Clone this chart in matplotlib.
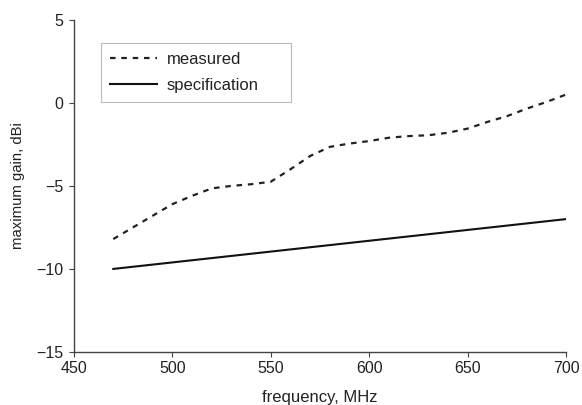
import matplotlib
matplotlib.use("Agg")
import matplotlib.pyplot as plt

plt.rcParams['font.family'] = ['Liberation Sans', 'DejaVu Sans']

# frequency in MHz
freq = [470, 480, 490, 500, 510, 520, 530, 540, 550, 560, 570, 580,
        590, 600, 610, 620, 630, 640, 650, 660, 670, 680, 690, 700]
# measured maximum gain, dBi
measured = [-8.2, -7.5, -6.8, -6.1, -5.6, -5.15, -5.0, -4.9, -4.75, -4.0,
            -3.2, -2.65, -2.45, -2.3, -2.1, -2.0, -1.95, -1.8, -1.55, -1.15,
            -0.8, -0.35, 0.05, 0.5]
# specification line endpoints
spec_freq = [470, 700]
spec_gain = [-10, -7]

fig = plt.figure(figsize=(5.82, 4.05), dpi=100)
ax = fig.add_axes([0.127, 0.131, 0.8455, 0.82])

ax.plot(freq, measured, color='#222222', lw=1.6, linestyle=(0, (2.5, 2.6)),
        label='measured')
ax.plot(spec_freq, spec_gain, color='#111111', lw=1.5, label='specification')

ax.set_xlim(450, 700)
ax.set_ylim(-15, 5)
ax.set_xticks([450, 500, 550, 600, 650, 700])
ax.set_yticks([-15, -10, -5, 0, 5])

for s in ['top', 'right']:
    ax.spines[s].set_visible(False)
for s in ['left', 'bottom']:
    ax.spines[s].set_color('#444444')
    ax.spines[s].set_linewidth(1.0)
ax.tick_params(direction='out', length=3.5, width=0.8, colors='#444444',
               labelcolor='#222222', pad=3)
ax.tick_params(axis='x', labelsize=11.5)
ax.tick_params(axis='y', labelsize=11.5, pad=4)

ax.set_xlabel('frequency, MHz', fontsize=12, color='#222222', labelpad=10)
ax.set_ylabel('maximum gain, dBi', fontsize=10.7, color='#222222', labelpad=8)

# legend box stretched to the width used in the original
leg = ax.legend(loc='upper left', bbox_to_anchor=(0.055, 0.5, 0.386, 0.43),
                mode='expand', fontsize=12, frameon=True, fancybox=False,
                handlelength=2.8, handletextpad=0.6, borderpad=0.55,
                labelspacing=0.66, borderaxespad=0)
leg.get_frame().set_edgecolor('#aaaaaa')
leg.get_frame().set_linewidth(0.8)
for t in leg.get_texts():
    t.set_color('#222222')

plt.savefig('out.png', dpi=100)
